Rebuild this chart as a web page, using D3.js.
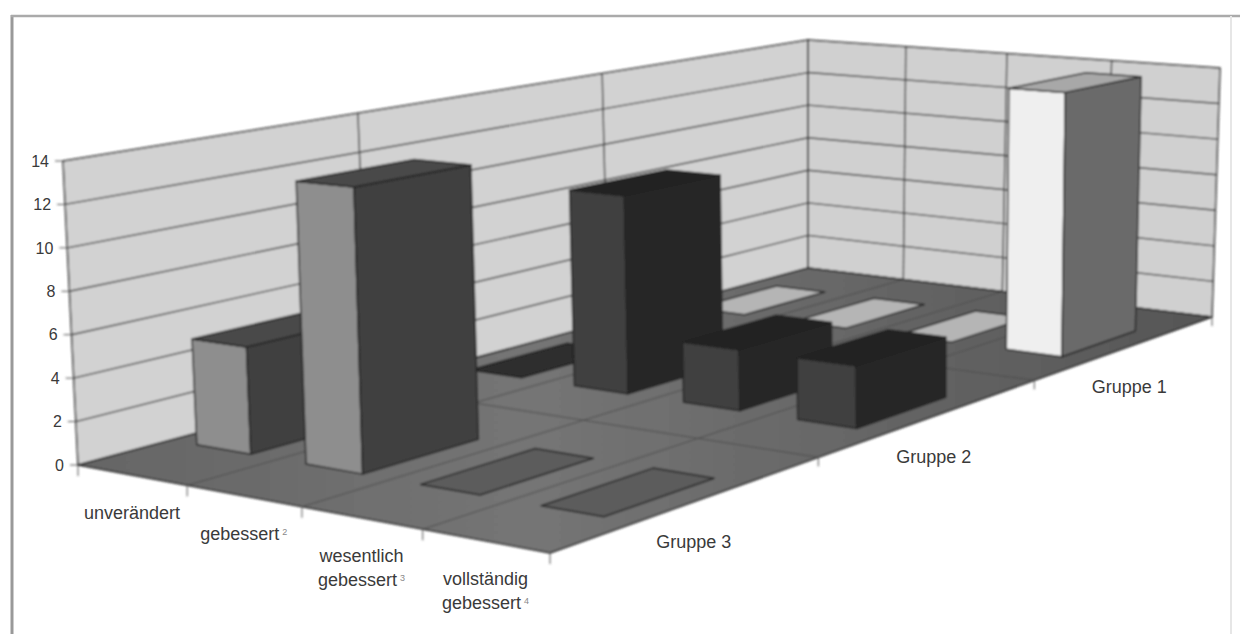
<!DOCTYPE html>
<html>
<head>
<meta charset="utf-8">
<script src="https://cdn.jsdelivr.net/npm/d3@7"></script>
<style>
  html, body { margin: 0; padding: 0; background: #fff; }
  svg { display: block; }
  text { font-family: "Liberation Sans", Arial, sans-serif; fill: #3a3a3a; }
</style>
</head>
<body>
<div id="chart"></div>
<script>
/* Excel style 3D column chart, drawn by hand since d3 has no 3D */

const categories = ["unverändert", "gebessert", "wesentlich gebessert", "vollständig gebessert"];
const footnotes = ["", "2", "3", "4"];
const series = ["Gruppe 3", "Gruppe 2", "Gruppe 1"]; // front to back
const gruppe1 = [0, 0, 0, 14];
const gruppe2 = [0, 10, 3, 3];
const gruppe3 = [5, 13, 0, 0];
const valueTicks = [0, 2, 4, 6, 8, 10, 12, 14];

const width = 1240,
      height = 634;

// corners of the floor and of the top plane on screen: left, front, right, back
const floorQuad = [[78, 465], [550, 553], [1212, 317], [808, 268]];
const topQuad = [[63, 161], [544, 210], [1220, 68], [808, 40]];

// unit square -> quad, the usual projective mapping
function squareToQuad(q) {
    const [[x0, y0], [x1, y1], [x2, y2], [x3, y3]] = q;
    const dx1 = x1 - x2, dx2 = x3 - x2, sx = x0 - x1 + x2 - x3;
    const dy1 = y1 - y2, dy2 = y3 - y2, sy = y0 - y1 + y2 - y3;
    const den = dx1 * dy2 - dx2 * dy1;
    const g = (sx * dy2 - dx2 * sy) / den;
    const h = (dx1 * sy - sx * dy1) / den;
    const a = x1 - x0 + g * x1, b = x3 - x0 + h * x3;
    const d = y1 - y0 + g * y1, e = y3 - y0 + h * y3;
    return (u, v) => {
        const w = g * u + h * v + 1;
        return [(a * u + b * v + x0) / w, (d * u + e * v + y0) / w];
    };
}

const floorMap = squareToQuad(floorQuad);
const topMap = squareToQuad(topQuad);

let xBand = d3.scaleBand().domain(categories).range([0, 1]).paddingInner(0.5).paddingOuter(0.25);
let zBand = d3.scaleBand().domain(series).range([0, 1]).paddingInner(0.59).paddingOuter(0.295);
let yScale = d3.scaleLinear().domain([0, 14]).range([0, 1]);

// u along category axis, v along series axis, value up
function project(u, v, value) {
    const f = floorMap(u, v), t = topMap(u, v), k = yScale(value);
    return [f[0] + (t[0] - f[0]) * k, f[1] + (t[1] - f[1]) * k];
}

const seriesStyle = {
    "Gruppe 1": { left: "#efefef", right: "#6a6a6a", top: "#a8a8a8", plate: "#b5b5b5" },
    "Gruppe 2": { left: "#404040", right: "#272727", top: "#232323", plate: "#2e2e2e" },
    "Gruppe 3": { left: "#8e8e8e", right: "#414141", top: "#484848", plate: "#5c5c5c" }
};
const seriesValues = { "Gruppe 1": gruppe1, "Gruppe 2": gruppe2, "Gruppe 3": gruppe3 };

let svg = d3.select("#chart")
    .append("svg")
    .attr("width", width)
    .attr("height", height);

let defs = svg.append("defs");
defs.append("filter")
    .attr("id", "soft")
    .append("feGaussianBlur")
    .attr("stdDeviation", 0.8);

let floorFill = defs.append("linearGradient") // scan is uneven, floor is lighter in the middle
    .attr("id", "floorFill");
floorFill.append("stop").attr("offset", "0%").attr("stop-color", "#656565");
floorFill.append("stop").attr("offset", "40%").attr("stop-color", "#757575");
floorFill.append("stop").attr("offset", "100%").attr("stop-color", "#565656");

// outer frame, only left and top show up clearly in the scan
svg.append("line").attr("x1", 12).attr("x2", 12).attr("y1", 15).attr("y2", height)
    .attr("stroke", "#999").attr("stroke-width", 3);
svg.append("line").attr("x1", 11).attr("x2", width).attr("y1", 16).attr("y2", 16)
    .attr("stroke", "#aaa").attr("stroke-width", 2.5);
svg.append("line").attr("x1", 1231).attr("x2", 1231).attr("y1", 16).attr("y2", height)
    .attr("stroke", "#e6e6e6").attr("stroke-width", 2);

let plot = svg.append("g").attr("filter", "url(#soft)");
const line = d3.line();

const poly = (pts, fill) => plot.append("path")
    .attr("d", line(pts) + "Z")
    .attr("fill", fill)
    .attr("stroke", "#222")
    .attr("stroke-width", 1.5)
    .attr("stroke-linejoin", "round");

const seg = (a, b, color, w) => plot.append("path")
    .attr("d", line([a, b]))
    .attr("fill", "none")
    .attr("stroke", color)
    .attr("stroke-width", w);

// walls
poly([project(0, 0, 0), project(0, 1, 0), project(0, 1, 14), project(0, 0, 14)], "#d2d2d2");
poly([project(0, 1, 0), project(1, 1, 0), project(1, 1, 14), project(0, 1, 14)], "#d0d0d0");

for (let t of valueTicks.slice(1, -1)) {
    seg(project(0, 0, t), project(0, 1, t), "#3a3a3a", 1.4);
    seg(project(0, 1, t), project(1, 1, t), "#3a3a3a", 1.4);
}
for (let i = 1; i < series.length; i++) {
    seg(project(0, i / series.length, 0), project(0, i / series.length, 14), "#3a3a3a", 1.4);
}
for (let i = 1; i < categories.length; i++) {
    seg(project(i / categories.length, 1, 0), project(i / categories.length, 1, 14), "#3a3a3a", 1.4);
}

// floor
poly([project(0, 0, 0), project(1, 0, 0), project(1, 1, 0), project(0, 1, 0)], "url(#floorFill)");
for (let i = 1; i < series.length; i++) {
    seg(project(0, i / series.length, 0), project(1, i / series.length, 0), "#4c4c4c", 1);
}
for (let i = 1; i < categories.length; i++) {
    seg(project(i / categories.length, 0, 0), project(i / categories.length, 1, 0), "#4c4c4c", 1);
}

// bars, back row first and left to right inside a row
for (let s of series.slice().reverse()) {
    const style = seriesStyle[s];
    categories.forEach((c, i) => {
        const val = seriesValues[s][i],
              u0 = xBand(c), u1 = u0 + xBand.bandwidth(),
              v0 = zBand(s), v1 = v0 + zBand.bandwidth();
        if (val === 0) { // empty cell is only a flat plate
            poly([project(u0, v0, 0), project(u1, v0, 0), project(u1, v1, 0), project(u0, v1, 0)], style.plate);
            return;
        }
        poly([project(u0, v0, 0), project(u1, v0, 0), project(u1, v0, val), project(u0, v0, val)], style.left);
        poly([project(u1, v0, 0), project(u1, v1, 0), project(u1, v1, val), project(u1, v0, val)], style.right);
        poly([project(u0, v0, val), project(u1, v0, val), project(u1, v1, val), project(u0, v1, val)], style.top);
    });
}

// value axis
for (let t of valueTicks) {
    const p = project(0, 0, t);
    seg(p, [p[0] - 8, p[1]], "#555", 1);
    svg.append("text")
        .attr("x", p[0] - 14)
        .attr("y", p[1])
        .attr("dy", "0.36em")
        .attr("text-anchor", "end")
        .style("font-size", "16px")
        .text(t);
}

// category axis
for (let i = 0; i <= categories.length; i++) {
    const p = project(i / categories.length, 0, 0);
    seg(p, [p[0], p[1] + 11], "#555", 1);
}
categories.forEach((c, i) => {
    const p = project(xBand(c) + xBand.bandwidth() / 2, 0, 0);
    const words = c.split(" ");
    let label = svg.append("text")
        .attr("x", p[0])
        .attr("y", p[1] + 44)
        .attr("text-anchor", "middle")
        .style("font-size", "18px");
    words.forEach((w, j) => {
        let ts = label.append("tspan").text(w);
        if (j > 0) ts.attr("x", p[0]).attr("dy", 24);
    });
    if (footnotes[i]) {
        label.append("tspan")
            .attr("dx", 3).attr("dy", -5)
            .style("font-size", "9px")
            .style("fill", "#888")
            .text(footnotes[i]);
    }
});

// series axis
for (let i = 1; i <= series.length; i++) {
    const p = project(1, i / series.length, 0);
    seg(p, [p[0], p[1] + 9], "#555", 1);
}
for (let s of series) {
    const p = project(1, zBand(s) + zBand.bandwidth() / 2, 0);
    svg.append("text")
        .attr("x", p[0] + 2)
        .attr("y", p[1] + 46)
        .attr("text-anchor", "middle")
        .style("font-size", "18px")
        .text(s);
}
</script>
</body>
</html>
